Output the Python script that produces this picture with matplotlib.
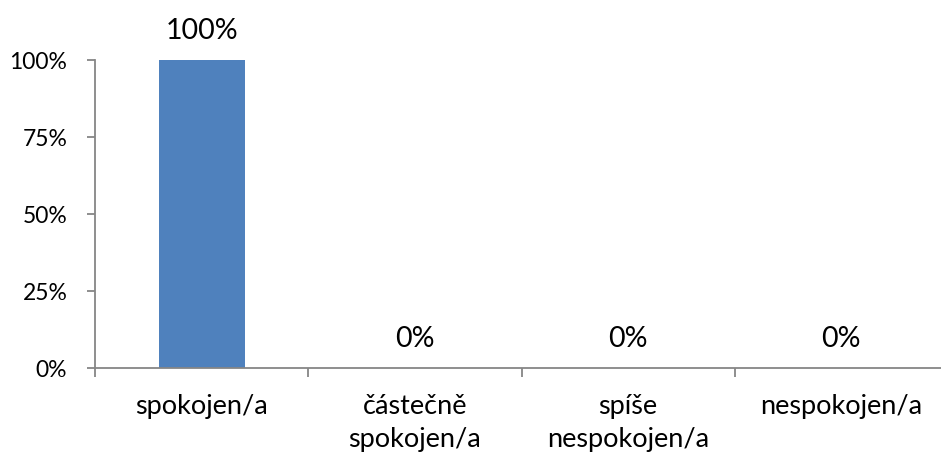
import matplotlib.pyplot as plt
from matplotlib.ticker import PercentFormatter

categories = ['spokojen/a', 'částečně\nspokojen/a', 'spíše\nnespokojen/a', 'nespokojen/a']
values = [100, 0, 0, 0]

plt.rcParams['font.family'] = ['Lato', 'DejaVu Sans']

fig = plt.figure(figsize=(9.41, 4.54), dpi=100)
ax = fig.add_axes([0.101, 0.1894, 0.9064, 0.6784])

x = range(len(categories))
bars = ax.bar(x, values, width=0.403, color='#4F81BD')

# value labels above each bar
for xi, v in zip(x, values):
    ax.annotate(f'{v}%', (xi, v), xytext=(0, 21), textcoords='offset points',
                ha='center', va='center', fontsize=20.5)

ax.set_xlim(-0.5, len(categories) - 0.5)
ax.set_ylim(0, 100)
ax.set_yticks([0, 25, 50, 75, 100])
ax.yaxis.set_major_formatter(PercentFormatter(decimals=0))

# tick marks between categories, labels centred under each category
ax.set_xticks([i + 0.5 for i in range(-1, len(categories))])
ax.set_xticklabels([])
ax.set_xticks(list(x), minor=True)
ax.set_xticklabels(categories, minor=True, fontsize=19.5, linespacing=1.4)
ax.tick_params(axis='x', which='minor', length=0, pad=19)
ax.tick_params(axis='x', which='major', length=6.5, width=1.3, color='#868686', direction='out')
ax.tick_params(axis='y', length=6, width=1.3, color='#868686', labelsize=16.5, pad=14)

for s in ['top', 'right']:
    ax.spines[s].set_visible(False)
for s in ['left', 'bottom']:
    ax.spines[s].set_color('#868686')
    ax.spines[s].set_linewidth(1.3)

fig.savefig('out.png', dpi=100)
